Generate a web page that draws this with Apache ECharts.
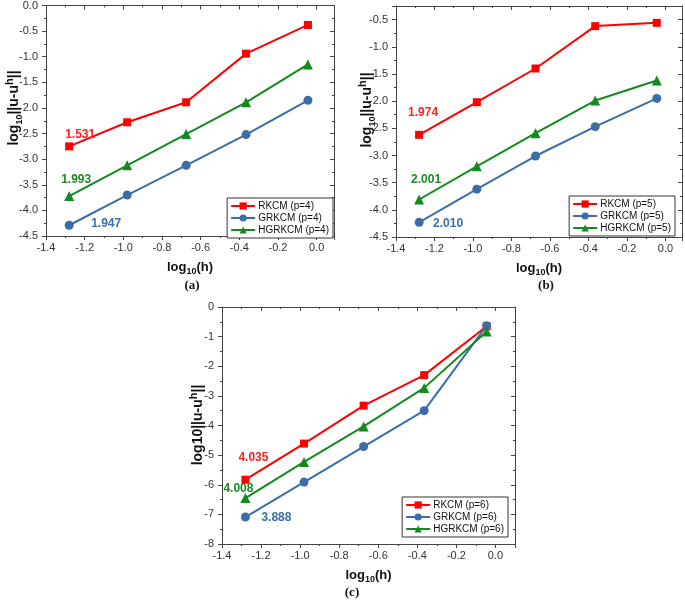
<!DOCTYPE html>
<html>
<head>
<meta charset="utf-8">
<script src="https://cdn.jsdelivr.net/npm/echarts@6/dist/echarts.min.js"></script>
<style>html,body{margin:0;padding:0;background:#fff;}#c{width:685px;height:602px;}</style>
</head>
<body>
<div id="c"></div>
<script>
// ---- data ----
const logH = [-1.28, -0.98, -0.675, -0.365, -0.045];

const rkcm4   = [-2.75, -2.28, -1.89, -0.94, -0.38];
const grkcm4  = [-4.29, -3.70, -3.12, -2.52, -1.85];
const hgrkcm4 = [-3.72, -3.12, -2.51, -1.89, -1.15];

const rkcm5   = [-2.62, -2.02, -1.40, -0.62, -0.56];
const grkcm5  = [-4.23, -3.62, -3.01, -2.47, -1.95];
const hgrkcm5 = [-3.81, -3.20, -2.59, -1.99, -1.62];

const rkcm6   = [-5.83, -4.61, -3.33, -2.30, -0.65];
const grkcm6  = [-7.09, -5.91, -4.71, -3.50, -0.63];
const hgrkcm6 = [-6.45, -5.23, -4.03, -2.73, -0.83];

const rates4 = ['1.531', '1.947', '1.993'];
const rates5 = ['1.974', '2.010', '2.001'];
const rates6 = ['4.035', '3.888', '4.008'];

const methods = ['RKCM', 'GRKCM', 'HGRKCM'];
const captions = ['(a)', '(b)', '(c)'];

// ---- styles ----
const FONT = "'Liberation Sans', Arial, sans-serif";
const COLORS = ['#ff0000', '#3b6ea8', '#148a1e'];
const LABEL_COLORS = ['#ff2020', '#3b6ea8', '#1f8a24'];
const SYMBOLS = ['rect', 'circle', 'triangle'];
const SYMSIZE = [8, 9, 10];
const AXIS_COLOR = '#444';

const panels = [
  {p: 4, data: [rkcm4, grkcm4, hgrkcm4], rates: rates4,
   grid: {left: 46, top: 5, width: 288, height: 231},
   xMax: 0.09, yMin: -4.5, yMax: 0, yInt: 0.5, yDec: 1,
   offsets: [[11, -12], [37, -2], [7, -16]],
   legend: {right: 352, bottom: 364},
   yTitle: {x: 14, y: 108, sub: true}, caption: {x: 192, y: 286}},
  {p: 5, data: [rkcm5, grkcm5, hgrkcm5], rates: rates5,
   grid: {left: 396, top: 6, width: 287, height: 231},
   xMax: 0.086, yMin: -4.5, yMax: -0.25, yInt: 0.5, yDec: 1,
   offsets: [[4, -22], [29, 1], [7, -20]],
   legend: {right: 10, bottom: 366},
   yTitle: {x: 367, y: 110, sub: true}, caption: {x: 546, y: 286}},
  {p: 6, data: [rkcm6, grkcm6, hgrkcm6], rates: rates6,
   grid: {left: 222, top: 307, width: 293, height: 237},
   xMax: 0.1, yMin: -8, yMax: 0, yInt: 1, yDec: 0,
   offsets: [[8, -22], [31, 1], [-7, -9]],
   legend: {right: 177, bottom: 65},
   yTitle: {x: 198, y: 425, sub: false}, caption: {x: 352, y: 593}}
];

function stepFormatter(step, dec) {
  return function (v) {
    const k = v / step;
    if (Math.abs(k - Math.round(k)) > 1e-6) return '';
    return (Math.round(k) * step).toFixed(dec);
  };
}

const grids = [], xAxes = [], yAxes = [], legends = [], series = [], graphics = [];

panels.forEach(function (pn, i) {
  grids.push(Object.assign({containLabel: false, show: false}, pn.grid));
  const common = {
    axisLine: {show: true, onZero: false, lineStyle: {color: AXIS_COLOR, width: 1}},
    splitLine: {show: false}
  };
  // bottom x
  xAxes.push(Object.assign({
    type: 'value', gridIndex: i, position: 'bottom',
    min: -1.4, max: pn.xMax, interval: 0.2,
    axisTick: {show: true, inside: false, length: 4, lineStyle: {color: AXIS_COLOR}},
    minorTick: {show: true, splitNumber: 2, length: 2, lineStyle: {color: AXIS_COLOR}},
    axisLabel: {show: true, margin: 6, fontFamily: FONT, fontSize: 11, color: '#333',
      formatter: stepFormatter(0.2, 1)},
    name: '{n|log}{s|10}{n|(h)}', nameLocation: 'middle', nameGap: 22,
    nameTextStyle: {rich: {
      n: {fontFamily: FONT, fontSize: 13, fontWeight: 'bold', color: '#111', lineHeight: 18, verticalAlign: 'middle'},
      s: {fontFamily: FONT, fontSize: 9, fontWeight: 'bold', color: '#111', lineHeight: 9, verticalAlign: 'bottom'}
    }}
  }, common));
  // left y
  yAxes.push(Object.assign({
    type: 'value', gridIndex: i, position: 'left',
    min: pn.yMin, max: pn.yMax, interval: pn.yInt,
    axisTick: {show: true, inside: false, length: 4, lineStyle: {color: AXIS_COLOR}},
    minorTick: {show: true, splitNumber: 2, length: 2, lineStyle: {color: AXIS_COLOR}},
    axisLabel: {show: true, margin: 8, fontFamily: FONT, fontSize: 11, color: '#333',
      formatter: stepFormatter(pn.yInt, pn.yDec)}
  }, common));

  // legend
  legends.push({
    orient: 'vertical', right: pn.legend.right, bottom: pn.legend.bottom,
    data: methods.map(function (m) { return m + ' (p=' + pn.p + ')'; }),
    selectedMode: false,
    backgroundColor: '#fff', borderColor: '#333', borderWidth: 1,
    padding: [3, 4, 3, 3], itemGap: 2, itemWidth: 24, itemHeight: 9,
    textStyle: {fontFamily: FONT, fontSize: 10, color: '#111', padding: [0, 0, 0, -2]}
  });

  // series
  methods.forEach(function (m, j) {
    const vals = pn.data[j];
    const data = logH.map(function (x, k) {
      const item = {value: [x, vals[k]]};
      if (k === 0) {
        item.label = {
          show: true, position: 'inside', offset: pn.offsets[j],
          formatter: pn.rates[j], fontFamily: FONT, fontSize: 12,
          fontWeight: 'bold', color: LABEL_COLORS[j]
        };
      }
      return item;
    });
    series.push({
      type: 'line', name: m + ' (p=' + pn.p + ')',
      xAxisIndex: i, yAxisIndex: i,
      data: data, symbol: SYMBOLS[j], symbolSize: SYMSIZE[j],
      lineStyle: {color: COLORS[j], width: 2},
      itemStyle: {color: COLORS[j]},
      label: {show: false},
      emphasis: {disabled: true},
      z: 3 + j
    });
  });

  // y title
  const txt = pn.yTitle.sub ? '{n|log}{s|10}{n|||u-u}{p|h}{n|||}' : '{n|log10||u-u}{p|h}{n|||}';
  graphics.push({
    type: 'text', x: pn.yTitle.x, y: pn.yTitle.y, rotation: Math.PI / 2,
    style: {
      text: txt, align: 'center', verticalAlign: 'middle',
      rich: {
        n: {fontFamily: FONT, fontSize: 14, fontWeight: 'bold', fill: '#111', lineHeight: 20, verticalAlign: 'middle'},
        s: {fontFamily: FONT, fontSize: 9, fontWeight: 'bold', fill: '#111', lineHeight: 10, verticalAlign: 'bottom'},
        p: {fontFamily: FONT, fontSize: 11, fontWeight: 'bold', fill: '#111', lineHeight: 10, verticalAlign: 'top'}
      }
    }
  });
  graphics.push({
    type: 'text', x: pn.caption.x, y: pn.caption.y,
    style: {text: captions[i], align: 'center', verticalAlign: 'middle',
      font: "bold 13px 'Liberation Serif', 'Times New Roman', serif", fill: '#111'}
  });
});

// mirror axes (top / right frames with inward ticks)
panels.forEach(function (pn, i) {
  xAxes.push({
    type: 'value', gridIndex: i, position: 'top',
    min: -1.4, max: pn.xMax, interval: 0.2,
    axisLine: {show: true, onZero: false, lineStyle: {color: AXIS_COLOR, width: 1}},
    axisTick: {show: true, inside: true, length: 4, lineStyle: {color: AXIS_COLOR}},
    minorTick: {show: true, splitNumber: 2, length: 2, lineStyle: {color: AXIS_COLOR}},
    axisLabel: {show: false}, splitLine: {show: false}
  });
  yAxes.push({
    type: 'value', gridIndex: i, position: 'right',
    min: pn.yMin, max: pn.yMax, interval: pn.yInt,
    axisLine: {show: true, onZero: false, lineStyle: {color: AXIS_COLOR, width: 1}},
    axisTick: {show: true, inside: true, length: 4, lineStyle: {color: AXIS_COLOR}},
    minorTick: {show: true, splitNumber: 2, length: 2, lineStyle: {color: AXIS_COLOR}},
    axisLabel: {show: false}, splitLine: {show: false}
  });
});

const chart = echarts.init(document.getElementById('c'), null, {renderer: 'canvas'});
chart.setOption({
  animation: false,
  backgroundColor: '#fff',
  grid: grids, xAxis: xAxes, yAxis: yAxes,
  legend: legends, series: series, graphic: graphics
});
</script>
</body>
</html>
